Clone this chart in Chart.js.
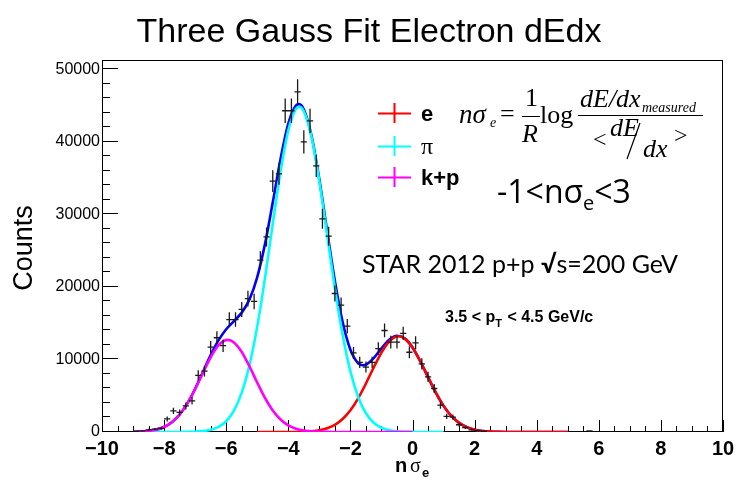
<!DOCTYPE html>
<html>
<head>
<meta charset="utf-8">
<script src="https://cdn.jsdelivr.net/npm/chart.js@4.4.1/dist/chart.umd.min.js"></script>
<style>
  html, body { margin: 0; padding: 0; background: #fff; }
  #wrap { width: 741px; height: 484px; }
</style>
</head>
<body>
<div id="wrap"><canvas id="c" width="741" height="484"></canvas></div>
<script>
// histogram: n sigma_e bin centres, counts and errors
const binX = [-8.9, -8.7, -8.5, -8.3, -8.1, -7.9, -7.7, -7.5, -7.3, -7.1,
              -6.9, -6.7, -6.5, -6.3, -6.1, -5.9, -5.7, -5.5, -5.3, -5.1,
              -4.9, -4.7, -4.5, -4.3, -4.1, -3.9, -3.7, -3.5, -3.3, -3.1,
              -2.9, -2.7, -2.5, -2.3, -2.1, -1.9, -1.7, -1.5, -1.3, -1.1,
              -0.9, -0.7, -0.5, -0.3, -0.1, 0.1, 0.3, 0.5, 0.7, 0.9,
              1.1, 1.3, 1.5, 1.7, 1.9, 2.1, 2.3, 5.7];
const binY = [100, 150, 300, 400, 500, 1800, 2900, 2700, 3600, 4300,
              7800, 8400, 11700, 13000, 11900, 15500, 15500, 16900, 18400, 18000,
              23700, 26900, 34600, 35600, 44300, 44300, 46900, 40000, 42900, 36700,
              29400, 27000, 19100, 17500, 14600, 10900, 9600, 8950, 9600, 11500,
              14000, 12400, 12400, 13600, 11000, 12300, 9400, 7600, 6000, 3700,
              2150, 2050, 1000, 600, 300, 200, 100, 150];
const binErr = [80, 100, 140, 160, 180, 340, 430, 420, 480, 520,
                700, 730, 860, 910, 870, 1000, 1000, 1040, 1090, 1070,
                1230, 1310, 1490, 1510, 1680, 1680, 1730, 1600, 1660, 1530,
                1370, 1310, 1100, 1060, 970, 830, 780, 760, 780, 860,
                950, 890, 890, 930, 840, 890, 780, 700, 620, 490,
                370, 360, 250, 200, 140, 110, 80, 100];
const binHalfWidth = 0.1;

// fit curves
const pionX = [-9, -8, -7.5, -7.25, -7, -6.75, -6.5, -6.25, -6, -5.75,
               -5.5, -5.25, -5, -4.75, -4.5, -4.25, -4, -3.75, -3.65, -3.5,
               -3.25, -3, -2.75, -2.5, -2.25, -2, -1.75, -1.5, -1.25, -1,
               -0.75, -0.5, -0.25, 0, 0.25, 0.5, 1];
const pionY = [0, 0, 5, 15, 44, 119, 299, 693, 1485, 2949,
               5423, 9240, 14565, 21254, 28710, 35920, 41594, 44584, 44860, 44241,
               40644, 34560, 27208, 19828, 13377, 8357, 4831, 2588, 1282, 588,
               250, 98, 36, 12, 4, 1, 0];

const kpX = [-9, -8.75, -8.5, -8.25, -8, -7.75, -7.5, -7.25, -7, -6.75,
             -6.5, -6.25, -5.95, -5.75, -5.5, -5.25, -5, -4.75, -4.5, -4.25,
             -4, -3.75, -3.5, -3.25, -3, -2.75, -2.5, -2, 0];
const kpY = [20, 56, 141, 327, 693, 1349, 2408, 3943, 5922, 8156,
             10302, 11933, 12700, 12353, 11039, 9047, 6801, 4689, 2964, 1719,
             914, 446, 199, 82, 31, 11, 4, 0, 0];

const eX = [-5, -4, -3.5, -3.25, -3, -2.75, -2.5, -2.25, -2, -1.75,
            -1.5, -1.25, -1, -0.75, -0.45, -0.25, 0, 0.25, 0.5, 0.75,
            1, 1.25, 1.5, 1.75, 2, 2.25, 2.5, 2.75, 3, 3.5, 5];
const eY = [0, 6, 42, 104, 238, 504, 986, 1786, 2996, 4650,
            6683, 8892, 10952, 12486, 13200, 12878, 11649, 9755, 7562, 5427,
            3605, 2217, 1262, 665, 325, 147, 61, 23, 8, 1, 0];

const totalX = [-9, -8.75, -8.5, -8.25, -8, -7.75, -7.5, -7.25, -7, -6.75,
                -6.5, -6.25, -6, -5.75, -5.5, -5.25, -5, -4.75, -4.5, -4.25,
                -4, -3.75, -3.65, -3.5, -3.25, -3, -2.75, -2.5, -2.25, -2,
                -1.75, -1.6, -1.5, -1.25, -1, -0.75, -0.5, -0.25, 0, 0.25,
                0.5, 0.75, 1, 1.25, 1.5, 1.75, 2, 2.25, 2.5, 2.75,
                3, 3.5, 5];
const totalY = [20, 56, 141, 327, 693, 1349, 2413, 3958, 5966, 8275,
                10601, 12626, 14163, 15302, 16462, 18287, 21366, 25943, 31674, 37639,
                42514, 45043, 45211, 44482, 40830, 34829, 27723, 20818, 15163, 11353,
                9481, 9196, 9271, 10174, 11540, 12736, 13278, 12914, 11661, 9759,
                7563, 5427, 3605, 2217, 1262, 665, 325, 147, 61, 23,
                8, 1, 0];

const xMajorTicks = [-10, -8, -6, -4, -2, 0, 2, 4, 6, 8, 10];
const yMajorTicks = [0, 10000, 20000, 30000, 40000, 50000];
const legendLabels = ['e', '\u03c0', 'k+p'];

function toPoints(xs, ys) {
    return xs.map((x, i) => ({ x: x, y: ys[i] }));
}

function curve(label, xs, ys, color, order) {
    return {
        label: label,
        data: toPoints(xs, ys),
        showLine: true,
        borderColor: color,
        backgroundColor: color,
        borderWidth: 2.6,
        pointRadius: 0,
        cubicInterpolationMode: 'monotone',
        order: order
    };
}

// ROOT style frame, inward ticks and error crosses
const rootFrame = {
    id: 'rootFrame',
    beforeDatasetsDraw(chart) {
        const ctx = chart.ctx;
        const a = chart.chartArea;
        const xs = chart.scales.x, ys = chart.scales.y;
        ctx.save();
        ctx.strokeStyle = '#000';
        ctx.lineWidth = 1;
        ctx.strokeRect(a.left + 0.5, a.top + 0.5, a.right - a.left - 1, a.bottom - a.top - 1);

        ctx.beginPath();
        for (let v = 0; v <= 50000; v += 2000) {
            const py = Math.round(ys.getPixelForValue(v)) - 0.5;
            const len = (v % 10000 === 0) ? 16 : 8;
            ctx.moveTo(a.left, py);
            ctx.lineTo(a.left + len, py);
        }
        for (let v = -10; v <= 10; v += 0.5) {
            const px = Math.round(xs.getPixelForValue(v)) + 0.5;
            const len = (Math.abs(v % 2) < 1e-6) ? 12 : 6;
            ctx.moveTo(px, a.bottom);
            ctx.lineTo(px, a.bottom - len);
        }
        ctx.stroke();
        ctx.restore();
    },
    afterDatasetsDraw(chart) {
        const ctx = chart.ctx;
        const a = chart.chartArea;
        const xs = chart.scales.x, ys = chart.scales.y;
        const ds = chart.data.datasets[0];
        ctx.save();
        ctx.beginPath();
        ctx.rect(a.left, a.top, a.right - a.left, a.bottom - a.top);
        ctx.clip();
        ctx.strokeStyle = '#1a1a1a';
        ctx.lineWidth = 1.3;
        ctx.beginPath();
        ds.data.forEach(p => {
            const px = xs.getPixelForValue(p.x);
            const py = ys.getPixelForValue(p.y);
            ctx.moveTo(xs.getPixelForValue(p.x - binHalfWidth), py);
            ctx.lineTo(xs.getPixelForValue(p.x + binHalfWidth), py);
            ctx.moveTo(px, ys.getPixelForValue(p.y - p.err));
            ctx.lineTo(px, ys.getPixelForValue(p.y + p.err));
        });
        ctx.stroke();
        ctx.restore();
    }
};

// titles, legend and annotations
const rootText = {
    id: 'rootText',
    afterDraw(chart) {
        const ctx = chart.ctx;
        ctx.save();
        ctx.fillStyle = '#000';
        ctx.textBaseline = 'alphabetic';

        // title
        ctx.textAlign = 'center';
        ctx.font = '34px "Liberation Sans", Arial, sans-serif';
        ctx.fillText('Three Gauss Fit Electron dEdx', 369, 42);

        // y title
        ctx.save();
        ctx.translate(32, 248);
        ctx.rotate(-Math.PI / 2);
        ctx.font = '27px "Liberation Sans", Arial, sans-serif';
        ctx.fillText('Counts', 0, 0);
        ctx.restore();

        // x title
        ctx.textAlign = 'left';
        ctx.font = 'bold 20px "Liberation Sans", Arial, sans-serif';
        ctx.fillText('n', 395, 472);
        ctx.font = '20px "Liberation Serif", serif';
        ctx.fillText('\u03c3', 410, 472);
        ctx.font = 'bold 13px "Liberation Sans", Arial, sans-serif';
        ctx.fillText('e', 422, 477);

        // legend
        const ys = [113, 146, 177];
        const dsIdx = [1, 2, 3];
        legendLabels.forEach((lab, i) => {
            const col = chart.data.datasets[dsIdx[i]].borderColor;
            ctx.strokeStyle = col;
            ctx.lineWidth = 2;
            ctx.beginPath();
            ctx.moveTo(378, ys[i] + 0.5);
            ctx.lineTo(411, ys[i] + 0.5);
            ctx.moveTo(394.5, ys[i] - 10);
            ctx.lineTo(394.5, ys[i] + 10);
            ctx.stroke();
            ctx.fillStyle = '#000';
            if (i === 1) {
                ctx.font = '24px "Liberation Serif", serif';
            } else {
                ctx.font = 'bold 22px "Liberation Sans", Arial, sans-serif';
            }
            ctx.fillText(lab, 421, ys[i] + 8);
        });

        // formula
        const it = (s) => 'italic ' + s + 'px "Liberation Serif", serif';
        const rm = (s) => s + 'px "Liberation Serif", serif';
        ctx.font = it(27); ctx.fillText('n\u03c3', 459, 123);
        ctx.font = it(14); ctx.fillText('e', 490, 127);
        ctx.font = rm(26); ctx.fillText('=', 500, 122);
        ctx.font = rm(26); ctx.fillText('1', 525, 106);
        ctx.font = it(26); ctx.fillText('R', 522, 142);
        ctx.font = rm(26); ctx.fillText('log', 540, 123);
        ctx.font = it(26); ctx.fillText('dE/dx', 580, 107);
        ctx.font = it(14); ctx.fillText('measured', 642, 112);
        ctx.font = rm(24); ctx.fillText('<', 593, 147);
        ctx.font = it(26); ctx.fillText('dE', 610, 136);
        ctx.font = it(26); ctx.fillText('dx', 643, 157);
        ctx.font = rm(24); ctx.fillText('>', 674, 143);
        ctx.strokeStyle = '#000';
        ctx.lineWidth = 1.2;
        ctx.beginPath();
        ctx.moveTo(522, 116.5); ctx.lineTo(540, 116.5);
        ctx.moveTo(578, 115.5); ctx.lineTo(703, 115.5);
        ctx.moveTo(640, 123); ctx.lineTo(627, 159);
        ctx.stroke();

        // -1 < n sigma_e < 3
        let x = 497;
        ctx.font = '32px "Open Sans", Lato, sans-serif';
        ctx.fillText('-1<n\u03c3', x, 203);
        x += ctx.measureText('-1<n\u03c3').width;
        ctx.font = '20px "Open Sans", Lato, sans-serif';
        ctx.fillText('e', x, 210);
        x += ctx.measureText('e').width;
        ctx.font = '32px "Open Sans", Lato, sans-serif';
        ctx.fillText('<3', x, 203);

        // STAR label
        x = 362;
        ctx.font = '25px Lato, "Open Sans", sans-serif';
        ctx.fillText('STAR 2012 p+p ', x, 273);
        x += ctx.measureText('STAR 2012 p+p ').width;
        ctx.font = 'bold 25px Lato, "Open Sans", sans-serif';
        ctx.fillText('\u221a', x, 273);
        x += ctx.measureText('\u221a').width;
        ctx.font = '25px Lato, "Open Sans", sans-serif';
        ctx.fillText('s=200 GeV', x, 273);

        // pT range
        x = 445;
        ctx.font = 'bold 16px "Liberation Sans", Arial, sans-serif';
        ctx.fillText('3.5 < p', x, 322);
        x += ctx.measureText('3.5 < p').width;
        ctx.font = 'bold 11px "Liberation Sans", Arial, sans-serif';
        ctx.fillText('T', x, 327);
        x += ctx.measureText('T').width + 1;
        ctx.font = 'bold 16px "Liberation Sans", Arial, sans-serif';
        ctx.fillText(' < 4.5 GeV/c', x, 322);

        ctx.restore();
    }
};

new Chart(document.getElementById('c'), {
    type: 'scatter',
    data: {
        datasets: [
            {
                label: 'data',
                data: binX.map((x, i) => ({ x: x, y: binY[i], err: binErr[i] })),
                pointRadius: 0,
                borderColor: '#000',
                order: 4
            },
            curve('e', eX, eY, '#ff0000', 2),
            curve('pi', pionX, pionY, '#00ffff', 1),
            curve('k+p', kpX, kpY, '#ff00ff', 0),
            curve('total', totalX, totalY, '#0000ff', 3)
        ]
    },
    options: {
        responsive: false,
        animation: false,
        layout: { padding: { top: 60, right: 18, left: 0, bottom: 0 } },
        plugins: {
            legend: { display: false },
            tooltip: { enabled: false }
        },
        scales: {
            x: {
                type: 'linear',
                min: -10,
                max: 10,
                afterBuildTicks: (s) => { s.ticks = xMajorTicks.map(v => ({ value: v })); },
                afterFit: (s) => { s.height = 52; },
                grid: { display: false, drawTicks: false },
                border: { display: false },
                ticks: {
                    padding: 5,
                    color: '#000',
                    maxRotation: 0,
                    autoSkip: false,
                    font: { family: '"Liberation Sans Narrow", "Liberation Sans", Arial', size: 20, weight: 'bold' },
                    callback: (v) => (v < 0 ? '\u2212' + Math.abs(v) : String(v))
                }
            },
            y: {
                type: 'linear',
                min: 0,
                max: 51300,
                afterBuildTicks: (s) => { s.ticks = yMajorTicks.map(v => ({ value: v })); },
                afterFit: (s) => { s.width = 102; },
                grid: { display: false, drawTicks: false },
                border: { display: false },
                ticks: {
                    padding: 2,
                    color: '#000',
                    autoSkip: false,
                    font: { family: '"Liberation Sans", Arial', size: 16 },
                    callback: (v) => String(v)
                }
            }
        }
    },
    plugins: [rootFrame, rootText]
});
</script>
</body>
</html>
